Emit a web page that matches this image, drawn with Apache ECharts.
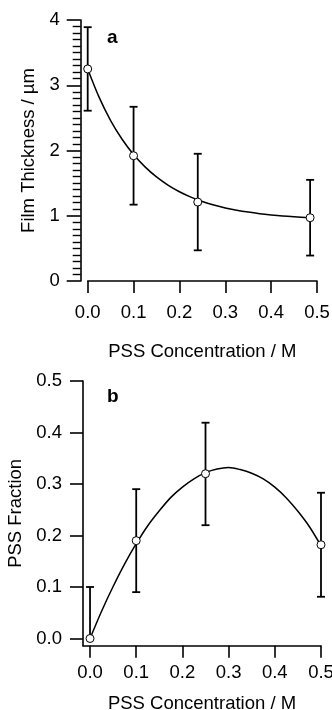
<!DOCTYPE html>
<html>
<head>
<meta charset="utf-8">
<script src="https://cdn.jsdelivr.net/npm/echarts@6/dist/echarts.min.js"></script>
<style>
html,body{margin:0;padding:0;background:#fff;}
#c{width:332px;height:710px;}
</style>
</head>
<body>
<div id="c"></div>
<script>
// Panel a: film thickness
const aX = [0, 0.1, 0.24, 0.485];
const aY = [3.25, 1.92, 1.21, 0.97];
const aErr = [0.64, 0.75, 0.74, 0.58];
const aCurveX = [0, 0.025, 0.05, 0.075, 0.1, 0.125, 0.15, 0.175, 0.2, 0.225, 0.25, 0.275, 0.3, 0.325, 0.35, 0.375, 0.4, 0.425, 0.45, 0.485];
const aCurveY = [3.25, 2.814, 2.459, 2.172, 1.938, 1.749, 1.595, 1.470, 1.368, 1.286, 1.219, 1.165, 1.120, 1.085, 1.056, 1.032, 1.013, 0.997, 0.985, 0.971];
const aYTicks = [0, 1, 2, 3, 4];
// Panel b: PSS fraction
const bX = [0, 0.1, 0.25, 0.5];
const bY = [0.0, 0.19, 0.32, 0.182];
const bLow = [0.0, 0.09, 0.22, 0.081];
const bHigh = [0.10, 0.29, 0.419, 0.283];
const bCurveX = [0, 0.025, 0.05, 0.075, 0.1, 0.125, 0.15, 0.175, 0.2, 0.225, 0.25, 0.275, 0.3, 0.325, 0.35, 0.375, 0.4, 0.425, 0.45, 0.475, 0.5];
const bCurveY = [0, 0.053, 0.101, 0.145, 0.184, 0.219, 0.248, 0.274, 0.294, 0.310, 0.322, 0.329, 0.332, 0.328, 0.321, 0.310, 0.294, 0.273, 0.247, 0.217, 0.180];
const xTicks = [0, 0.1, 0.2, 0.3, 0.4, 0.5];
const bYTicks = [0, 0.1, 0.2, 0.3, 0.4, 0.5];

const FONT = '"Liberation Sans", Arial, Helvetica, sans-serif';
const FS = 18.5;
const BLACK = '#000';

function errRender(params, api) {
  const x = api.value(0), lo = api.value(1), hi = api.value(2);
  const pLo = api.coord([x, lo]);
  const pHi = api.coord([x, hi]);
  const w = 4;
  const st = {stroke: BLACK, lineWidth: 1.8};
  return {
    type: 'group',
    children: [
      {type: 'line', shape: {x1: pLo[0], y1: pLo[1], x2: pHi[0], y2: pHi[1]}, style: st},
      {type: 'line', shape: {x1: pHi[0] - w, y1: pHi[1], x2: pHi[0] + w, y2: pHi[1]}, style: st},
      {type: 'line', shape: {x1: pLo[0] - w, y1: pLo[1], x2: pLo[0] + w, y2: pLo[1]}, style: st}
    ]
  };
}

const aErrData = aX.map((x, i) => [x, aY[i] - aErr[i], aY[i] + aErr[i]]);
const bErrData = bX.map((x, i) => [x, bLow[i], bHigh[i]]);

const axisLine = {show: true, onZero: false, lineStyle: {color: BLACK, width: 1.6}};
const labelStyle = {color: BLACK, fontFamily: FONT, fontSize: FS};
const nameStyle = {color: BLACK, fontFamily: FONT, fontSize: FS};

const option = {
  backgroundColor: '#fff',
  animation: false,
  title: [
    {text: 'a', left: 102, top: 23, textStyle: {fontFamily: FONT, fontSize: 19, fontWeight: 'bold', color: BLACK}},
    {text: 'b', left: 102, top: 382, textStyle: {fontFamily: FONT, fontSize: 19, fontWeight: 'bold', color: BLACK}}
  ],
  grid: [
    {left: 87.7, top: 20, width: 229.3, height: 261, outerBoundsMode: 'none', containLabel: false},
    {left: 83, top: 381, width: 238, height: 264.7, outerBoundsMode: 'none', containLabel: false}
  ],
  xAxis: [
    {
      gridIndex: 0, type: 'value', min: 0, max: 0.5, interval: 0.1,
      name: 'PSS Concentration / M', nameLocation: 'middle', nameGap: 61, nameTextStyle: nameStyle,
      axisLine: axisLine,
      axisTick: {show: true, length: 12, lineStyle: {color: BLACK, width: 1.6}},
      axisLabel: Object.assign({margin: 22.5, formatter: v => v.toFixed(1)}, labelStyle),
      splitLine: {show: false}
    },
    {
      gridIndex: 1, type: 'value', min: -0.0152, max: 0.5,
      name: 'PSS Concentration / M', nameLocation: 'middle', nameGap: 49, nameTextStyle: nameStyle,
      axisLine: axisLine,
      axisTick: {show: true, length: 12, customValues: xTicks, lineStyle: {color: BLACK, width: 1.6}},
      axisLabel: Object.assign({margin: 18, customValues: xTicks, formatter: v => Number(v).toFixed(1)}, labelStyle),
      splitLine: {show: false}
    }
  ],
  yAxis: [
    {
      gridIndex: 0, type: 'value', min: 0, max: 4, interval: 1, offset: 7,
      name: 'Film Thickness / µm', nameLocation: 'middle', nameGap: 42, nameTextStyle: nameStyle,
      axisLine: axisLine,
      axisTick: {show: true, length: 14, lineStyle: {color: BLACK, width: 1.6}},
      minorTick: {show: true, splitNumber: 10, length: 8, lineStyle: {color: BLACK, width: 1.4}},
      axisLabel: Object.assign({margin: 21, formatter: v => String(v)}, labelStyle),
      splitLine: {show: false}, minorSplitLine: {show: false}
    },
    {
      gridIndex: 1, type: 'value', min: -0.014, max: 0.5,
      name: 'PSS Fraction', nameLocation: 'middle', nameGap: 53, nameTextStyle: nameStyle,
      axisLine: axisLine,
      axisTick: {show: true, length: 13, customValues: bYTicks, lineStyle: {color: BLACK, width: 1.6}},
      axisLabel: Object.assign({margin: 21, customValues: bYTicks, formatter: v => Number(v).toFixed(1)}, labelStyle),
      splitLine: {show: false}
    }
  ],
  series: [
    {
      type: 'custom', xAxisIndex: 0, yAxisIndex: 0, renderItem: errRender,
      data: aErrData, z: 2, silent: true
    },
    {
      type: 'line', xAxisIndex: 0, yAxisIndex: 0, smooth: 0.3, showSymbol: false,
      data: aCurveX.map((x, i) => [x, aCurveY[i]]),
      lineStyle: {color: BLACK, width: 1.5}, z: 3
    },
    {
      type: 'scatter', xAxisIndex: 0, yAxisIndex: 0, symbol: 'circle', symbolSize: 8,
      data: aX.map((x, i) => [x, aY[i]]),
      itemStyle: {color: '#fff', borderColor: BLACK, borderWidth: 1, opacity: 1}, z: 4
    },
    {
      type: 'custom', xAxisIndex: 1, yAxisIndex: 1, renderItem: errRender,
      data: bErrData, z: 2, silent: true
    },
    {
      type: 'line', xAxisIndex: 1, yAxisIndex: 1, smooth: 0.3, showSymbol: false,
      data: bCurveX.map((x, i) => [x, bCurveY[i]]),
      lineStyle: {color: BLACK, width: 1.5}, z: 3
    },
    {
      type: 'scatter', xAxisIndex: 1, yAxisIndex: 1, symbol: 'circle', symbolSize: 8,
      data: bX.map((x, i) => [x, bY[i]]),
      itemStyle: {color: '#fff', borderColor: BLACK, borderWidth: 1, opacity: 1}, z: 4
    }
  ]
};

const chart = echarts.init(document.getElementById('c'), null, {renderer: 'canvas'});
chart.setOption(option);
</script>
</body>
</html>
